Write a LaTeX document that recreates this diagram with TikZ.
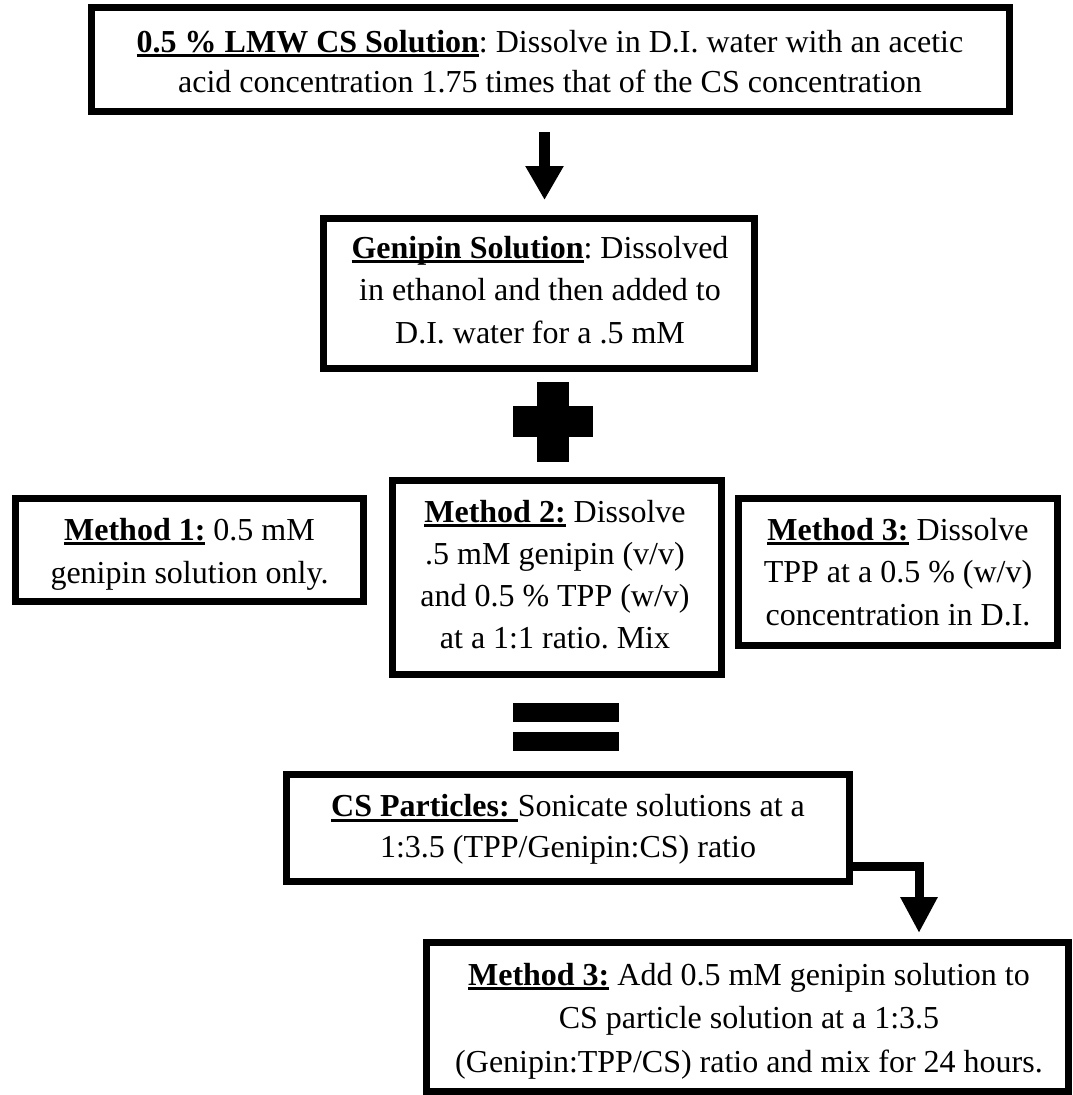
\documentclass[tikz,border=0pt]{standalone}
\usepackage{fontspec}
\setmainfont{Liberation Serif}
\usetikzlibrary{arrows.meta}
\newcommand\ulx[1]{\setbox0=\hbox{#1}\rlap{\rule[-5pt]{\wd0}{3pt}}\box0\relax}
\frenchspacing
\begin{document}
\begin{tikzpicture}[x=1pt,y=-1pt,
  box/.style={draw=black, line width=7pt, inner sep=0pt, outer sep=3.5pt, line join=miter},
  tx/.style={inner sep=0pt, align=center, font=\fontsize{32}{42}\selectfont},
  barrow/.style={draw=black, line width=11pt, -{Triangle[width=36pt,length=34pt]}},
  barrowb/.style={draw=black, line width=9pt, line join=miter, -{Triangle[width=35pt,length=36pt]}},
  sym/.style={fill=black}]
\useasboundingbox (0,0) rectangle (1073,1095);
\fill[white] (0,0) rectangle (1073,1095);

% boxes
\node[box, minimum width=918pt, minimum height=104pt] (b1) at (550.5,59.5) {};
\node[box, minimum width=431pt, minimum height=150pt] (b2) at (539,293.5) {};
\node[box, minimum width=348pt, minimum height=103pt] (b3) at (189.5,550) {};
\node[box, minimum width=329pt, minimum height=194pt] (b4) at (557,577.5) {};
\node[box, minimum width=319pt, minimum height=147pt] (b5) at (898,572) {};
\node[box, minimum width=563pt, minimum height=107pt] (b6) at (568,828) {};
\node[box, minimum width=642pt, minimum height=149pt] (b7) at (747.5,1017) {};

% texts
\node[tx, font=\fontsize{32}{40}\selectfont] (t1) at (550,64)
  {\strut\ulx{\textbf{0.5 \% LMW CS Solution}}: Dissolve in D.I. water with an acetic\\
   \strut acid concentration 1.75 times that of the CS concentration};
\node[tx, font=\fontsize{32}{42.5}\selectfont] (t2) at (540,292.3)
  {\strut\ulx{\textbf{Genipin Solution}}: Dissolved\\
   \strut in ethanol and then added to\\
   \strut D.I. water for a .5 mM};
\node[tx, font=\fontsize{32}{43}\selectfont] (t3) at (189.5,553)
  {\strut\ulx{\textbf{Method 1:}} 0.5 mM\\
   \strut genipin solution only.};
\node[tx] (t4) at (555,576.6)
  {\strut\ulx{\textbf{Method 2:}} Dissolve\\
   \strut .5 mM genipin (v/v)\\
   \strut and 0.5 \% TPP (w/v)\\
   \strut at a 1:1 ratio. Mix};
\node[tx, font=\fontsize{32}{42.5}\selectfont] (t5) at (898,574)
  {\strut\ulx{\textbf{Method 3:}} Dissolve\\
   \strut TPP at a 0.5 \% (w/v)\\
   \strut concentration in D.I.};
\node[tx, font=\fontsize{32}{41}\selectfont] (t6) at (568,829.2)
  {\strut\ulx{\textbf{CS Particles: }}Sonicate solutions at a\\
   \strut 1:3.5 (TPP/Genipin:CS) ratio};
\node[tx, font=\fontsize{32}{43.5}\selectfont] (t7) at (749,1019.8)
  {\strut\ulx{\textbf{Method 3:}} Add 0.5 mM genipin solution to\\
   \strut CS particle solution at a 1:3.5\\
   \strut (Genipin:TPP/CS) ratio and mix for 24 hours.};

% plus and equals symbols
\fill[sym] (537,382) rectangle (569,462);
\fill[sym] (513,406) rectangle (593,437);
\fill[sym] (513,703) rectangle (619,722);
\fill[sym] (513,732) rectangle (619,751);

% connectors
\coordinate (ax) at (544.5,0);
\draw[barrow, shorten <=17pt, shorten >=15pt] (b1.south -| ax) -- (b2.north -| ax);
\coordinate (e1) at (919,866);
\draw[barrowb, shorten >=6pt] (b6.east |- e1) -- (e1) -- (b7.north -| e1);
\end{tikzpicture}
\end{document}
